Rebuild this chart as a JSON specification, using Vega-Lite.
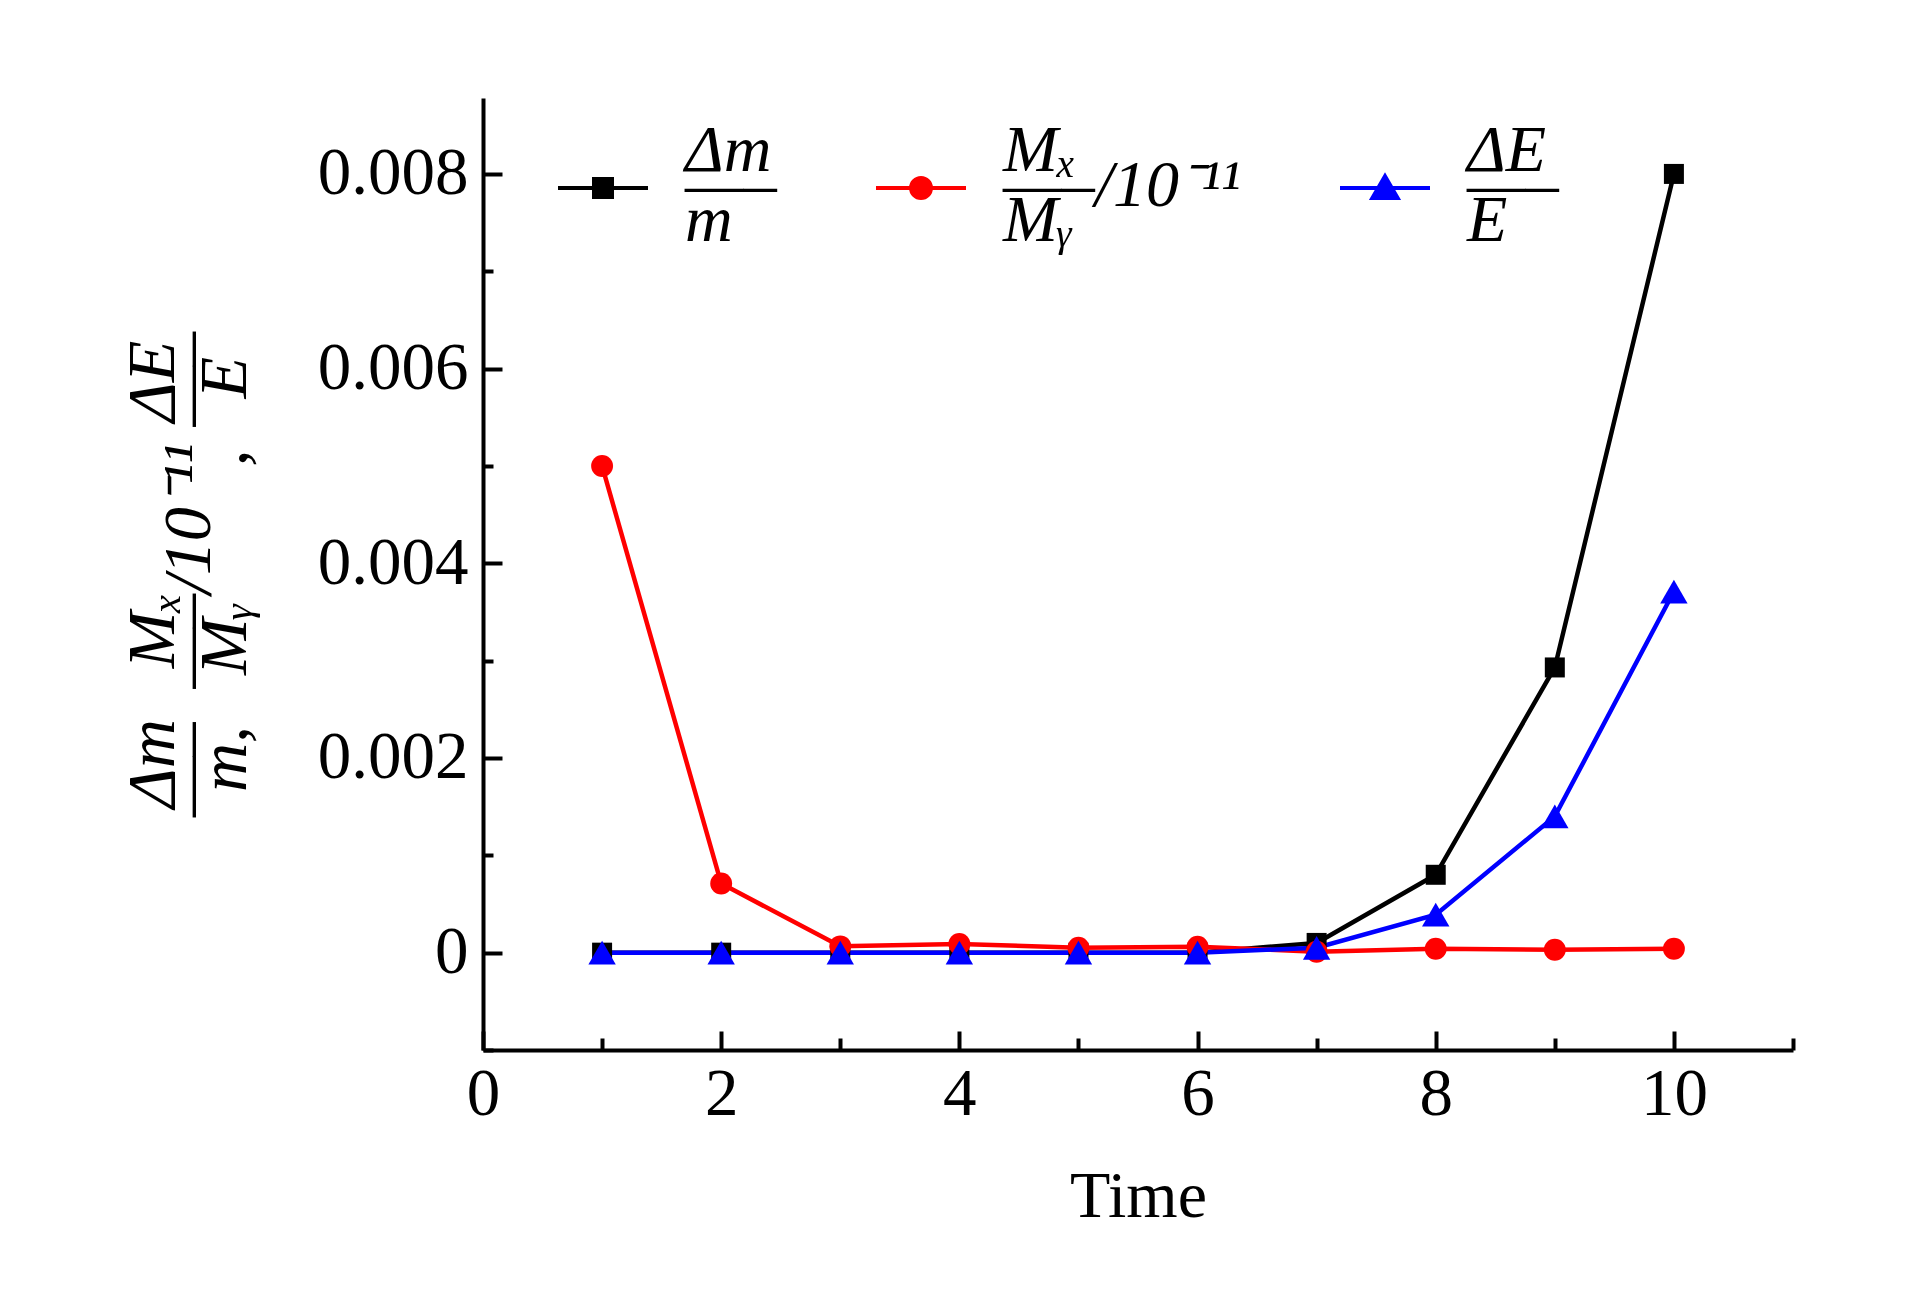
{
  "$schema": "https://vega.github.io/schema/vega-lite/v6.json",
  "width": 1310,
  "height": 952,
  "autosize": "none",
  "padding": {"left": 483, "top": 98, "right": 130, "bottom": 249},
  "background": "white",
  "config": {
    "view": {"stroke": null},
    "font": "Liberation Serif",
    "axis": {
      "grid": false,
      "domainColor": "black",
      "domainWidth": 4,
      "tickColor": "black",
      "tickWidth": 4,
      "labelFont": "Liberation Serif",
      "labelFontSize": 67,
      "labelColor": "black",
      "titleColor": "black",
      "titleFont": "Liberation Serif",
      "labelFlush": false,
      "labelOverlap": false
    },
    "legend": {
      "orient": "none",
      "legendX": 73,
      "legendY": 43,
      "direction": "horizontal",
      "columns": 3,
      "padding": 0,
      "symbolSize": 8100,
      "symbolStrokeWidth": 4,
      "labelFont": "Liberation Serif",
      "labelFontSize": 66,
      "labelFontStyle": "italic",
      "labelColor": "black",
      "labelOffset": 35,
      "labelLimit": 2000,
      "columnPadding": 91
    }
  },
  "data": {
    "values": [
      {"t": 1, "v": 0, "s": "dm"},
      {"t": 2, "v": 0, "s": "dm"},
      {"t": 3, "v": 0, "s": "dm"},
      {"t": 4, "v": 0, "s": "dm"},
      {"t": 5, "v": 0, "s": "dm"},
      {"t": 6, "v": 0, "s": "dm"},
      {"t": 7, "v": 0.0001, "s": "dm"},
      {"t": 8, "v": 0.0008, "s": "dm"},
      {"t": 9, "v": 0.00293, "s": "dm"},
      {"t": 10, "v": 0.008, "s": "dm"},
      {"t": 1, "v": 0.005, "s": "mx"},
      {"t": 2, "v": 0.00071, "s": "mx"},
      {"t": 3, "v": 0.000065, "s": "mx"},
      {"t": 4, "v": 0.00009, "s": "mx"},
      {"t": 5, "v": 0.00005, "s": "mx"},
      {"t": 6, "v": 0.00006, "s": "mx"},
      {"t": 7, "v": 0.00001, "s": "mx"},
      {"t": 8, "v": 0.00004, "s": "mx"},
      {"t": 9, "v": 0.00003, "s": "mx"},
      {"t": 10, "v": 0.00004, "s": "mx"},
      {"t": 1, "v": 0, "s": "de"},
      {"t": 2, "v": 0, "s": "de"},
      {"t": 3, "v": 0, "s": "de"},
      {"t": 4, "v": 0, "s": "de"},
      {"t": 5, "v": 0, "s": "de"},
      {"t": 6, "v": 0, "s": "de"},
      {"t": 7, "v": 0.00005, "s": "de"},
      {"t": 8, "v": 0.00039, "s": "de"},
      {"t": 9, "v": 0.0014, "s": "de"},
      {"t": 10, "v": 0.00371, "s": "de"}
    ]
  },
  "encoding": {
    "x": {
      "field": "t",
      "type": "quantitative",
      "scale": {"domain": [0, 11], "nice": false, "zero": false},
      "axis": {
        "values": [0, 1, 2, 3, 4, 5, 6, 7, 8, 9, 10, 11],
        "tickSize": {"condition": {"test": "datum.value % 2 == 1", "value": -12}, "value": -19},
        "labelExpr": "datum.value % 2 == 0 ? format(datum.value, 'd') : ''",
        "labelPadding": 30,
        "title": "Time",
        "titleFontSize": 66,
        "titleFontWeight": "normal",
        "titlePadding": 30
      }
    },
    "y": {
      "field": "v",
      "type": "quantitative",
      "scale": {"domain": [-0.001, 0.00878], "nice": false, "zero": false},
      "axis": {
        "values": [-0.001, 0, 0.001, 0.002, 0.003, 0.004, 0.005, 0.006, 0.007, 0.008],
        "tickSize": {"condition": {"test": "abs(round(datum.value * 1000)) % 2 == 1", "value": -10}, "value": -19},
        "labelExpr": "abs(round(datum.value * 1000)) % 2 == 1 ? '' : (datum.value == 0 ? '0' : format(datum.value, '.3f'))",
        "labelPadding": 34,
        "title": [
          "Δm\u00a0\u00a0\u00a0Mₓ\u00a0\u00a0\u00a0\u00a0\u00a0\u00a0\u00a0\u00a0\u00a0\u00a0ΔE",
          "—–\u00a0\u00a0—–/10⁻¹¹\u00a0—–",
          "\u00a0m,\u00a0\u00a0\u00a0Mᵧ\u00a0\u00a0\u00a0\u00a0\u00a0\u00a0\u00a0\u00a0,\u00a0\u00a0\u00a0E\u00a0"
        ],
        "titleFontSize": 68,
        "titleFontWeight": "normal",
        "titleFontStyle": "italic",
        "titleLineHeight": 36,
        "titlePadding": 58
      }
    },
    "color": {
      "field": "s",
      "type": "nominal",
      "scale": {"domain": ["dm", "mx", "de"], "range": ["#000000", "#ff0000", "#0000ff"]},
      "legend": {
        "title": null,
        "labelExpr": "datum.value == 'dm' ? ['Δm', '—–', '\u00a0\u2009m'] : datum.value == 'mx' ? ['Mₓ', '—–/10⁻¹¹', 'Mᵧ'] : ['ΔE', '—–', '\u00a0\u2009E']",
        "encode": {
          "symbols": {
            "update": {
              "shape": {"signal": "datum.value == 'dm' ? 'M-1,0L1,0M-0.2,-0.2L0.2,-0.2L0.2,0.2L-0.2,0.2Z' : datum.value == 'mx' ? 'M-1,0L1,0M-0.222,0A0.222,0.222,0,1,0,0.222,0A0.222,0.222,0,1,0,-0.222,0Z' : 'M-1,0L1,0M0,-0.26L0.28,0.22L-0.28,0.22Z'"},
              "size": {"value": 8100},
              "fill": {"signal": "datum.value == 'dm' ? '#000000' : datum.value == 'mx' ? '#ff0000' : '#0000ff'"},
              "stroke": {"signal": "datum.value == 'dm' ? '#000000' : datum.value == 'mx' ? '#ff0000' : '#0000ff'"},
              "strokeWidth": {"value": 4},
              "opacity": {"value": 1},
              "fillOpacity": {"value": 1},
              "strokeOpacity": {"value": 1}
            }
          },
          "labels": {
            "update": {"lineHeight": {"value": 35}, "dy": {"value": -37}}
          }
        }
      }
    }
  },
  "layer": [
    {
      "mark": {"type": "line", "strokeWidth": 4.5}
    },
    {
      "transform": [{"filter": {"field": "s", "equal": "dm"}}],
      "mark": {"type": "point", "shape": "square", "filled": true, "opacity": 1, "size": 400}
    },
    {
      "transform": [{"filter": {"field": "s", "equal": "mx"}}],
      "mark": {"type": "point", "shape": "circle", "filled": true, "opacity": 1, "size": 480}
    },
    {
      "transform": [{"filter": {"field": "s", "equal": "de"}}],
      "mark": {"type": "point", "shape": "triangle-up", "filled": true, "opacity": 1, "size": 750}
    }
  ]
}
